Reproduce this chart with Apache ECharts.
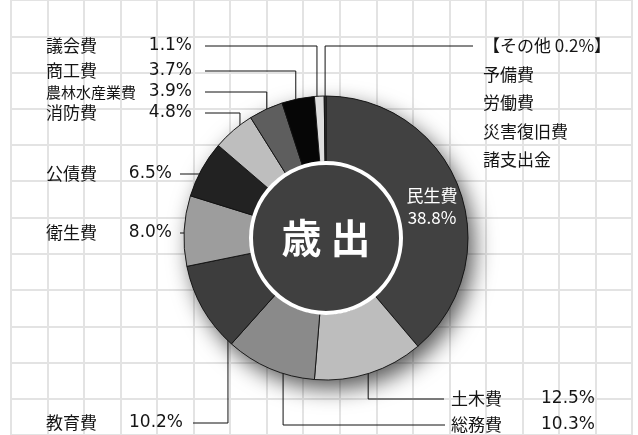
<!DOCTYPE html>
<html><head><meta charset="utf-8">
<script src="https://cdn.jsdelivr.net/npm/echarts@6/dist/echarts.min.js"></script>
<style>html,body{margin:0;padding:0;background:#fff}#c{width:638px;height:435px}</style>
</head><body><div id="c"></div>
<script>
// ---- data ----
const categories = ['民生費','土木費','総務費','教育費','衛生費','公債費','消防費','農林水産業費','商工費','議会費','その他'];
const values = [38.8, 12.5, 10.3, 10.2, 8.0, 6.5, 4.8, 3.9, 3.7, 1.1, 0.2];
const otherItems = ['予備費','労働費','災害復旧費','諸支出金'];
const centerTitle = '歳 出';

// ---- style / layout ----
const FJ = '"Noto Sans CJK JP", sans-serif';
const FN = '"DejaVu Sans", sans-serif';
const TXT = '#151515';
const colors = ['#414141','#bdbdbd','#8a8a8a','#3d3d3d','#9d9d9d','#222222','#bebebe','#5e5e5e','#060606','#dedede','#3a3a3a'];
const CX = 326, CY = 238, R0 = 76, R1 = 142;
const labelX   = [432, 451, 451, 46, 46, 46, 46, 46, 46, 46, 483];
const labelY   = [207, 399, 425, 423, 233, 174, 113, 92, 71, 46, 46];
const nameW    = [0, 90, 90, 84, 80, 80, 100, 100, 100, 100, 0];
const pctW     = [0, 54, 54, 53, 46, 46, 46, 46, 46, 46, 0];
const nameSize = [17, 17, 17, 17, 17, 17, 17, 15, 17, 17, 17];
const lineEndX = [0, 444, 445, 193, 180, 180, 205, 205, 205, 205, 473];
const anchorR  = [0, 107, 117, 117, 113, 127, 132, 134, 132, 133, 78];
const anchorDA = [0, -5.4, -1.7, -3.2, -2.9, -2.2, 0, -1.2, -1.9, -1.2, -0.3];

const pct = i => values[i].toFixed(1) + '%';

function makeLabel(i) {
  if (i === 0) {
    return {
      formatter: '{w|' + categories[0] + '}\n{w|' + pct(0) + '}',
      rich: { w: { color: '#fff', fontSize: 17, lineHeight: 22, fontFamily: FJ, align: 'center' } }
    };
  }
  if (i === categories.length - 1) {
    const lines = ['{t|【' + categories[i] + ' ' + pct(i) + '】}'].concat(otherItems.map(s => '{t|' + s + '}'));
    return {
      formatter: lines.join('\n'),
      rich: { t: { color: TXT, fontSize: 17, lineHeight: 28.5, fontFamily: FJ } }
    };
  }
  return {
    formatter: '{n|' + categories[i] + '}{p|' + pct(i) + '}',
    rich: {
      n: { width: nameW[i], fontSize: nameSize[i], fontFamily: FJ, color: TXT },
      p: { width: pctW[i], align: 'right', fontSize: 17, fontFamily: FN, color: TXT }
    }
  };
}

// cumulative mid-angle fallback (degrees clockwise from top)
function midAngle(i) {
  const total = values.reduce((a, b) => a + b, 0);
  let c = 0;
  for (let k = 0; k < i; k++) c += values[k];
  return (c + values[i] / 2) / total * 360;
}

const donutData = categories.map((name, i) => ({
  name: name,
  value: values[i],
  itemStyle: { color: colors[i] },
  labelLine: { show: i !== 0 },
  label: makeLabel(i)
}));

const chart = echarts.init(document.getElementById('c'), null, { renderer: 'canvas' });
chart.setOption({
  backgroundColor: '#ffffff',
  animation: false,
  grid: { left: 11, width: 621, top: 0, height: 438 },
  xAxis: {
    type: 'value', min: 0, max: 17, interval: 1,
    axisLine: { show: false }, axisTick: { show: false }, axisLabel: { show: false },
    splitLine: { show: true, lineStyle: { color: '#e3e3e3', width: 2 } }
  },
  yAxis: {
    type: 'value', min: 0, max: 12, interval: 1,
    axisLine: { show: false }, axisTick: { show: false }, axisLabel: { show: false },
    splitLine: { show: true, lineStyle: { color: '#e3e3e3', width: 2 } }
  },
  series: [
    {
      type: 'pie', silent: true, center: [CX, CY], radius: [0, R1],
      label: { show: false }, labelLine: { show: false },
      data: [{ value: 1, itemStyle: { color: '#404040', shadowBlur: 22, shadowOffsetX: 6, shadowOffsetY: 9, shadowColor: 'rgba(0,0,0,0.65)' } }]
    },
    {
      type: 'pie', silent: true, center: [CX, CY], radius: [R0, R1],
      startAngle: 90, clockwise: true, avoidLabelOverlap: false,
      itemStyle: { borderColor: '#111', borderWidth: 0.9 },
      label: { show: true, position: 'outside' },
      labelLine: { show: true, smooth: false, length: 10, length2: 10, lineStyle: { color: '#111', width: 1 } },
      labelLayout: function (params) {
        const i = params.dataIndex;
        if (i === 0) {
          return { x: labelX[0], y: labelY[0], align: 'center', verticalAlign: 'middle' };
        }
        let ang;
        const lp = params.labelLinePoints;
        if (lp && lp[0]) {
          ang = Math.atan2(lp[0][0] - CX, CY - lp[0][1]) * 180 / Math.PI;
        } else {
          ang = midAngle(i);
        }
        const a = (ang + anchorDA[i]) * Math.PI / 180;
        const ax = CX + anchorR[i] * Math.sin(a);
        const ay = CY - anchorR[i] * Math.cos(a);
        const last = i === categories.length - 1;
        return {
          x: labelX[i],
          y: last ? labelY[i] - 14.25 : labelY[i],
          align: 'left',
          verticalAlign: last ? 'top' : 'middle',
          labelLinePoints: [[ax, ay], [ax, labelY[i]], [lineEndX[i], labelY[i]]]
        };
      },
      data: donutData
    },
    {
      type: 'pie', silent: true, center: [CX, CY], radius: [0, 75],
      labelLine: { show: false },
      label: { show: true, position: 'center', formatter: centerTitle, color: '#fff', fontSize: 40, fontWeight: 'bold', fontFamily: FJ },
      itemStyle: { color: '#404040', borderColor: '#ffffff', borderWidth: 4 },
      data: [{ value: 1, name: centerTitle }]
    }
  ]
});
</script>
</body></html>
